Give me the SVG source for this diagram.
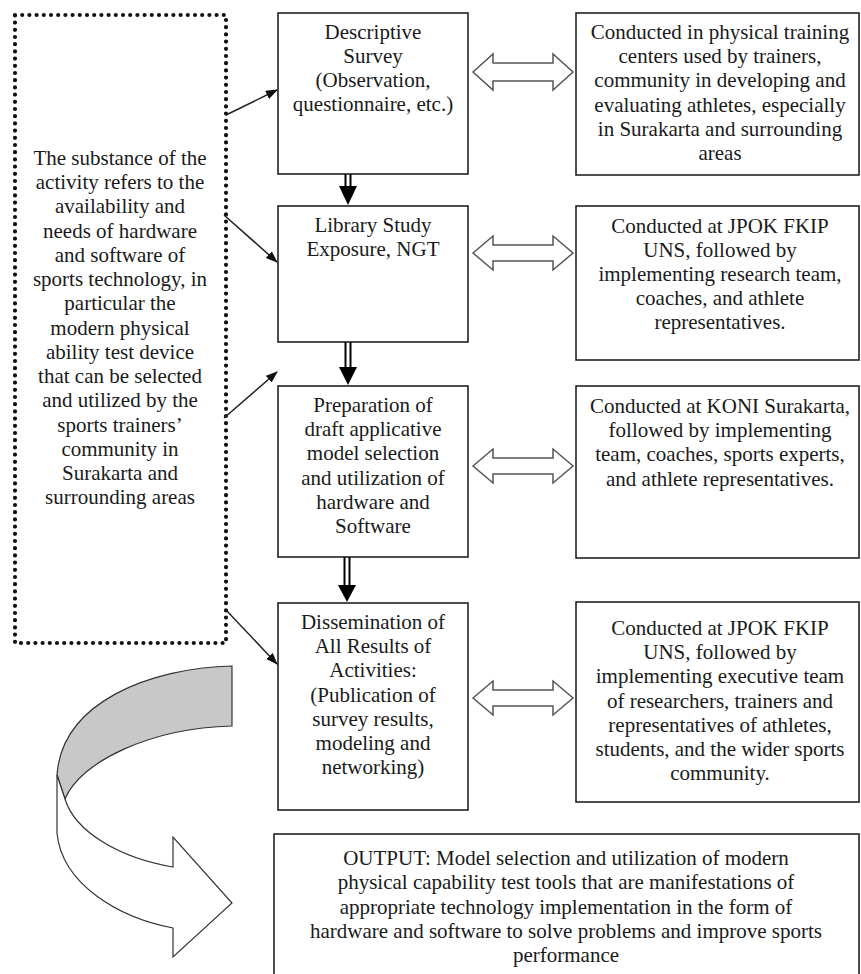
<svg xmlns="http://www.w3.org/2000/svg" width="861" height="974" viewBox="0 0 861 974">
<defs>
<style>
.t{font-family:'Liberation Serif','DejaVu Serif','Times New Roman',serif;font-size:21px;fill:#1a1a1a;text-anchor:middle}
.box{fill:#fff;stroke:#222;stroke-width:1.6}
.dbl{fill:#fff;stroke:#555;stroke-width:1.5;stroke-linejoin:miter}
.thin{stroke:#222;stroke-width:1.5;fill:none}
.shaft{stroke:#000;stroke-width:2}
</style>
<marker id="ah" markerWidth="12" markerHeight="10" refX="11" refY="4.5" orient="auto" markerUnits="userSpaceOnUse">
<path d="M0,0 L12,4.5 L0,9 Z" fill="#111"/>
</marker>
</defs>
<rect width="861" height="974" fill="#fff"/>

<g font-family="Liberation Serif, DejaVu Serif, Times New Roman, serif">
<g id="source">
<path d="M15,15 H226 V643 H15 Z" fill="none" stroke="#111" stroke-width="4.2" stroke-linecap="round" stroke-dasharray="0 7.2"/>
<text class="t"><tspan x="120" y="165">The substance of the</tspan><tspan x="120" y="189">activity refers to the</tspan><tspan x="120" y="213">availability and</tspan><tspan x="120" y="238">needs of hardware</tspan><tspan x="120" y="262">and software of</tspan><tspan x="120" y="286">sports technology, in</tspan><tspan x="120" y="310">particular the</tspan><tspan x="120" y="335">modern physical</tspan><tspan x="120" y="359">ability test device</tspan><tspan x="120" y="383">that can be selected</tspan><tspan x="120" y="407">and utilized by the</tspan><tspan x="120" y="432">sports trainers’</tspan><tspan x="120" y="456">community in</tspan><tspan x="120" y="480">Surakarta and</tspan><tspan x="120" y="504">surrounding areas</tspan></text>
</g>

<g id="step1">
<rect class="box" x="278" y="13" width="190" height="161"/>
<text class="t"><tspan x="373" y="39">Descriptive</tspan><tspan x="373" y="63">Survey</tspan><tspan x="373" y="87">(Observation,</tspan><tspan x="373" y="111">questionnaire, etc.)</tspan></text>
</g>
<g id="step2">
<rect class="box" x="278" y="206" width="190" height="136"/>
<text class="t"><tspan x="373" y="232">Library Study</tspan><tspan x="373" y="256">Exposure, NGT</tspan></text>
</g>
<g id="step3">
<rect class="box" x="278" y="386" width="190" height="171"/>
<text class="t"><tspan x="373" y="412">Preparation of</tspan><tspan x="373" y="436">draft applicative</tspan><tspan x="373" y="460">model selection</tspan><tspan x="373" y="485">and utilization of</tspan><tspan x="373" y="509">hardware and</tspan><tspan x="373" y="533">Software</tspan></text>
</g>
<g id="step4">
<rect class="box" x="278" y="603" width="190" height="207"/>
<text class="t"><tspan x="373" y="629">Dissemination of</tspan><tspan x="373" y="653">All Results of</tspan><tspan x="373" y="677">Activities:</tspan><tspan x="373" y="702">(Publication of</tspan><tspan x="373" y="726">survey results,</tspan><tspan x="373" y="750">modeling and</tspan><tspan x="373" y="774">networking)</tspan></text>
</g>

<g id="place1">
<rect class="box" x="576" y="13" width="283" height="162"/>
<text class="t"><tspan x="720" y="39">Conducted in physical training</tspan><tspan x="720" y="63">centers used by trainers,</tspan><tspan x="720" y="87">community in developing and</tspan><tspan x="720" y="112">evaluating athletes, especially</tspan><tspan x="720" y="136">in Surakarta and surrounding</tspan><tspan x="720" y="160">areas</tspan></text>
</g>
<g id="place2">
<rect class="box" x="576" y="206" width="283" height="154"/>
<text class="t"><tspan x="720" y="233">Conducted at JPOK FKIP</tspan><tspan x="720" y="257">UNS, followed by</tspan><tspan x="720" y="281">implementing research team,</tspan><tspan x="720" y="305">coaches, and athlete</tspan><tspan x="720" y="329">representatives.</tspan></text>
</g>
<g id="place3">
<rect class="box" x="576" y="386" width="283" height="172"/>
<text class="t"><tspan x="720" y="413">Conducted at KONI Surakarta,</tspan><tspan x="720" y="437">followed by implementing</tspan><tspan x="720" y="461">team, coaches, sports experts,</tspan><tspan x="720" y="486">and athlete representatives.</tspan></text>
</g>
<g id="place4">
<rect class="box" x="576" y="602" width="283" height="200"/>
<text class="t"><tspan x="720" y="635">Conducted at JPOK FKIP</tspan><tspan x="720" y="659">UNS, followed by</tspan><tspan x="720" y="683">implementing executive team</tspan><tspan x="720" y="708">of researchers, trainers and</tspan><tspan x="720" y="732">representatives of athletes,</tspan><tspan x="720" y="756">students, and the wider sports</tspan><tspan x="720" y="780">community.</tspan></text>
</g>

<g id="output">
<rect class="box" x="274" y="834" width="585" height="150"/>
<text class="t"><tspan x="566" y="865">OUTPUT: Model selection and utilization of modern</tspan><tspan x="566" y="889">physical capability test tools that are manifestations of</tspan><tspan x="566" y="914">appropriate technology implementation in the form of</tspan><tspan x="566" y="938">hardware and software to solve problems and improve sports</tspan><tspan x="566" y="962">performance</tspan></text>
</g>
</g>

<g id="connectors">
<line class="thin" x1="226" y1="115" x2="277" y2="90" marker-end="url(#ah)"/>
<line class="thin" x1="224" y1="215" x2="277" y2="262" marker-end="url(#ah)"/>
<line class="thin" x1="224" y1="418" x2="277" y2="372" marker-end="url(#ah)"/>
<line class="thin" x1="226" y1="610" x2="277" y2="664" marker-end="url(#ah)"/>

<line class="shaft" x1="345.5" y1="174" x2="345.5" y2="187"/>
<line class="shaft" x1="350.5" y1="174" x2="350.5" y2="187"/>
<polygon points="339,186 357,186 348,205" fill="#000"/>
<line class="shaft" x1="345.5" y1="342" x2="345.5" y2="368"/>
<line class="shaft" x1="350.5" y1="342" x2="350.5" y2="368"/>
<polygon points="339,367 357,367 348,385" fill="#000"/>
<line class="shaft" x1="344.5" y1="557" x2="344.5" y2="586"/>
<line class="shaft" x1="349.5" y1="557" x2="349.5" y2="586"/>
<polygon points="338,585 356,585 347,602" fill="#000"/>

<polygon class="dbl" points="473,72 493,54 493,63 553,63 553,54 573,72 553,90 553,81 493,81 493,90"/>
<polygon class="dbl" points="473,253 493,236 493,245 553,245 553,236 573,253 553,270 553,261 493,261 493,270"/>
<polygon class="dbl" points="473,466 493,449 493,458 553,458 553,449 573,466 553,483 553,474 493,474 493,483"/>
<polygon class="dbl" points="473,698 493,681 493,690 553,690 553,681 573,698 553,715 553,706 493,706 493,715"/>

<path d="M232,666 C150,668 62,702 57,775 L65,799 C80,762 150,728 232,726 Z" fill="#c8c8c8" stroke="#333" stroke-width="1.2"/>
<path d="M57,775 L57,833 C62,885 120,918 173,928 L173,957 L232,903 L173,837 L173,867 C120,858 75,832 65,799 Z" fill="#fff" stroke="#333" stroke-width="1.2" stroke-linejoin="miter"/>
</g>
</svg>
